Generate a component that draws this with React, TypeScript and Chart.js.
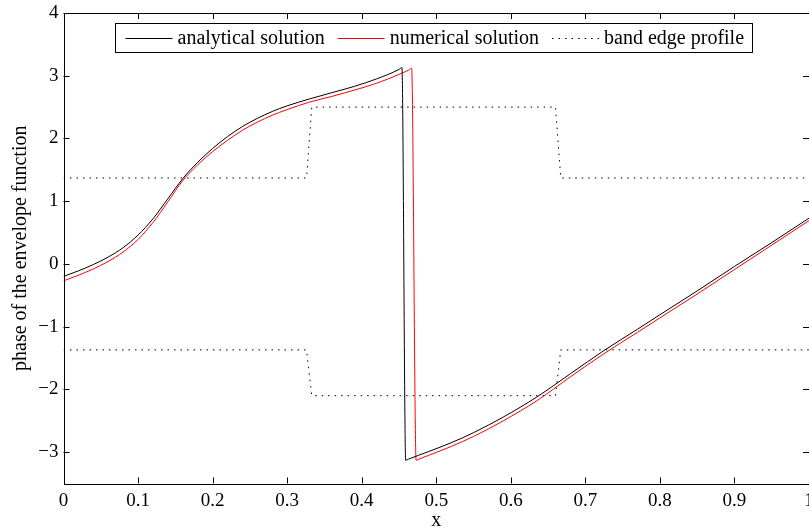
import React, { useEffect, useRef } from "react";
import { Chart, registerables } from "chart.js";

Chart.register(...registerables);

// Phase of the envelope function along x
const analyticalX = [0, 0.02, 0.04, 0.06, 0.08, 0.1, 0.12, 0.14, 0.16, 0.18, 0.2, 0.22, 0.24, 0.26, 0.28, 0.3, 0.33, 0.36, 0.39, 0.42, 0.45, 0.454, 0.459, 0.463, 0.49, 0.52, 0.55, 0.59, 0.635, 0.68, 0.725, 0.77, 0.8, 0.85, 0.9, 0.95, 1.0];
const analyticalY = [-0.2, -0.11, -0.01, 0.11, 0.26, 0.46, 0.72, 1.04, 1.36, 1.62, 1.84, 2.03, 2.19, 2.32, 2.43, 2.52, 2.63, 2.73, 2.83, 2.95, 3.1, 3.13, -3.13, -3.11, -2.99, -2.85, -2.69, -2.44, -2.12, -1.75, -1.38, -1.04, -0.81, -0.43, -0.04, 0.34, 0.73];

const numericalX = [0, 0.02, 0.04, 0.06, 0.08, 0.1, 0.12, 0.14, 0.16, 0.18, 0.2, 0.22, 0.24, 0.26, 0.28, 0.3, 0.33, 0.36, 0.39, 0.42, 0.45, 0.463, 0.467, 0.473, 0.477, 0.49, 0.52, 0.55, 0.59, 0.635, 0.68, 0.725, 0.77, 0.8, 0.85, 0.9, 0.95, 1.0];
const numericalY = [-0.27, -0.18, -0.08, 0.04, 0.19, 0.39, 0.66, 0.99, 1.33, 1.58, 1.79, 1.97, 2.13, 2.26, 2.37, 2.46, 2.58, 2.67, 2.77, 2.88, 3.02, 3.09, 3.12, -3.13, -3.11, -3.05, -2.91, -2.75, -2.5, -2.18, -1.8, -1.43, -1.09, -0.86, -0.48, -0.09, 0.3, 0.69];

// Band edge profile (upper and lower edges)
const bandX = [0, 0.326, 0.333, 0.66, 0.667, 1.0];
const bandUpper = [1.37, 1.37, 2.5, 2.5, 1.37, 1.37];
const bandLower = [-1.37, -1.37, -2.1, -2.1, -1.37, -1.37];

const xTicks = [0, 0.1, 0.2, 0.3, 0.4, 0.5, 0.6, 0.7, 0.8, 0.9, 1];
const yTicks = [-3, -2, -1, 0, 1, 2, 3, 4];

const legendLabels = ["analytical solution", "numerical solution", "band edge profile"];
const xTitle = "x";
const yTitle = "phase of the envelope function";

const FONT = '"Liberation Serif", "Times New Roman", serif';
const TICK_SIZE = 19;
const TEXT_SIZE = 20;

const toPoints = (xs: number[], ys: number[]) => xs.map((x, i) => ({ x, y: ys[i] }));

const fmt = (v: number) => {
  const s = String(Number(v.toFixed(2)));
  return v < 0 ? "\u2212" + s.slice(1) : s;
};

const framePlugin = {
  id: "frameAndLegend",
  afterDatasetsDraw(chart: any) {
    const { ctx, chartArea } = chart;
    const { left, right, top, bottom } = chartArea;
    const xs = chart.scales.x;
    const ys = chart.scales.y;
    ctx.save();
    ctx.strokeStyle = "#000";
    ctx.lineWidth = 1;
    ctx.setLineDash([]);
    const tick = 6;
    ctx.beginPath();
    for (const t of xTicks) {
      const px = Math.round(xs.getPixelForValue(t)) + 0.5;
      ctx.moveTo(px, bottom);
      ctx.lineTo(px, bottom - tick);
      ctx.moveTo(px, top);
      ctx.lineTo(px, top + tick);
    }
    for (const t of yTicks) {
      const py = Math.round(ys.getPixelForValue(t)) + 0.5;
      ctx.moveTo(left, py);
      ctx.lineTo(left + tick, py);
      ctx.moveTo(right, py);
      ctx.lineTo(right - tick, py);
    }
    ctx.stroke();
    ctx.strokeRect(Math.round(left) + 0.5, Math.round(top) + 0.5, Math.round(right - left) - 1, Math.round(bottom - top));

    // legend
    ctx.font = `${TEXT_SIZE}px ${FONT}`;
    const boxLeft = 115.5;
    const boxTop = 23.5;
    const boxH = 29;
    const midY = boxTop + boxH / 2;
    const styles = [
      { color: "#000", dash: [] as number[] },
      { color: "#ff0000", dash: [] as number[] },
      { color: "#000", dash: [1.5, 5] },
    ];
    let x = boxLeft + 10;
    const segs: { x: number; label: string; s: any }[] = [];
    legendLabels.forEach((label, i) => {
      segs.push({ x, label, s: styles[i] });
      x += 47 + 5 + ctx.measureText(label).width + 13;
    });
    const boxRight = Math.round(x - 13 + 8) + 0.5;
    ctx.fillStyle = "#fff";
    ctx.fillRect(boxLeft, boxTop, boxRight - boxLeft, boxH);
    ctx.strokeStyle = "#000";
    ctx.strokeRect(boxLeft, boxTop, boxRight - boxLeft, boxH);
    for (const sg of segs) {
      ctx.strokeStyle = sg.s.color;
      ctx.setLineDash(sg.s.dash);
      ctx.beginPath();
      ctx.moveTo(sg.x, Math.round(midY) + 0.5);
      ctx.lineTo(sg.x + 47, Math.round(midY) + 0.5);
      ctx.stroke();
      ctx.setLineDash([]);
      ctx.fillStyle = "#000";
      ctx.textBaseline = "middle";
      ctx.textAlign = "left";
      ctx.fillText(sg.label, sg.x + 52, midY + 1);
    }

    // axis titles
    ctx.fillStyle = "#000";
    ctx.textAlign = "center";
    ctx.textBaseline = "alphabetic";
    ctx.fillText(xTitle, (left + right) / 2, 526);
    ctx.translate(21, (top + bottom) / 2);
    ctx.rotate(-Math.PI / 2);
    ctx.textBaseline = "middle";
    ctx.fillText(yTitle, 0, 0);
    ctx.restore();
  },
};

export default function App() {
  const ref = useRef<HTMLCanvasElement | null>(null);

  useEffect(() => {
    if (!ref.current) return;
    const chart = new Chart(ref.current, {
      type: "line",
      data: {
        datasets: [
          {
            label: legendLabels[0],
            data: toPoints(analyticalX, analyticalY),
            borderColor: "#000",
            borderWidth: 1,
            pointRadius: 0,
            cubicInterpolationMode: "monotone",
          },
          {
            label: legendLabels[1],
            data: toPoints(numericalX, numericalY),
            borderColor: "#ff0000",
            borderWidth: 1,
            pointRadius: 0,
            cubicInterpolationMode: "monotone",
          },
          {
            label: legendLabels[2],
            data: toPoints(bandX, bandUpper),
            borderColor: "#000",
            borderWidth: 1,
            borderDash: [1.5, 5],
            pointRadius: 0,
            tension: 0,
          },
          {
            label: legendLabels[2],
            data: toPoints(bandX, bandLower),
            borderColor: "#000",
            borderWidth: 1,
            borderDash: [1.5, 5],
            pointRadius: 0,
            tension: 0,
          },
        ],
      },
      options: {
        animation: false,
        responsive: false,
        devicePixelRatio: 1,
        layout: { padding: { left: 0, right: 0, top: 13, bottom: 0 } },
        plugins: { legend: { display: false }, tooltip: { enabled: false } },
        scales: {
          x: {
            type: "linear",
            min: 0,
            max: 1,
            grid: { display: false, drawTicks: false },
            border: { display: false },
            afterBuildTicks: (s: any) => {
              s.ticks = xTicks.map((v) => ({ value: v }));
            },
            afterFit: (s: any) => {
              s.height = 47.5;
              s.paddingLeft = 0;
              s.paddingRight = 0;
            },
            ticks: {
              padding: 6,
              color: "#000",
              font: { family: FONT, size: TICK_SIZE },
              maxRotation: 0,
              autoSkip: false,
              callback: (v: any) => fmt(Number(v)),
            },
          },
          y: {
            type: "linear",
            min: -3.5,
            max: 4,
            grid: { display: false, drawTicks: false },
            border: { display: false },
            afterBuildTicks: (s: any) => {
              s.ticks = yTicks.map((v) => ({ value: v }));
            },
            afterFit: (s: any) => {
              s.width = 63.5;
              s.paddingTop = 0;
              s.paddingBottom = 0;
            },
            ticks: {
              padding: 5,
              color: "#000",
              font: { family: FONT, size: TICK_SIZE },
              autoSkip: false,
              callback: (v: any) => fmt(Number(v)),
            },
          },
        },
      },
      plugins: [framePlugin],
    } as any);
    return () => chart.destroy();
  }, []);

  return (
    <div style={{ position: "fixed", left: 0, top: 0, width: 809, height: 531, background: "#fff" }}>
      <canvas ref={ref} width={809} height={531} style={{ display: "block" }} />
    </div>
  );
}
